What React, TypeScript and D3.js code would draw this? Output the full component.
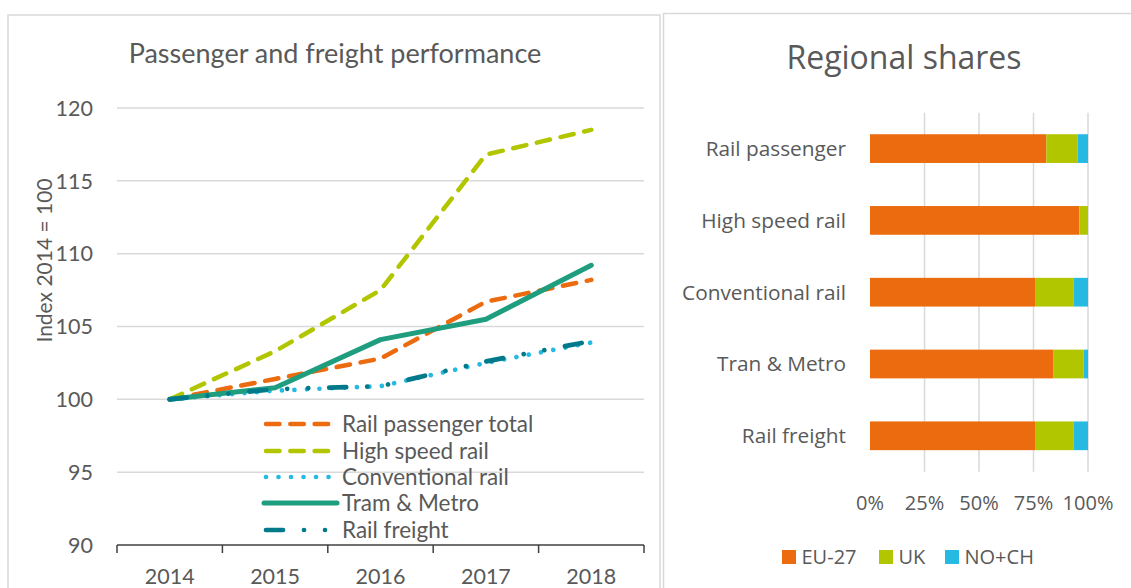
import React from "react";
import * as d3 from "d3";

const years = ["2014", "2015", "2016", "2017", "2018"];
const yTicks = [90, 95, 100, 105, 110, 115, 120];
const railPassengerTotal = [100, 101.4, 102.8, 106.7, 108.2];
const highSpeedRail = [100, 103.3, 107.5, 116.8, 118.5];
const conventionalRail = [100, 100.6, 100.9, 102.5, 103.9];
const tramMetro = [100, 100.8, 104.1, 105.5, 109.2];
const railFreight = [100, 100.7, 100.9, 102.6, 104.0];

const shareCategories = ["Rail passenger", "High speed rail", "Conventional rail", "Tran & Metro", "Rail freight"];
const eu27 = [80.9, 96.0, 75.7, 84.2, 75.7];
const uk = [14.4, 4.0, 17.8, 13.8, 17.8];
const noch = [4.7, 0.0, 6.5, 2.0, 6.5];
const shareTicks = [0, 25, 50, 75, 100];
const regionNames = ["EU-27", "UK", "NO+CH"];

const ORANGE = "#EB6B0E";
const LIME = "#B2C600";
const CYAN = "#26BAE2";
const TEAL = "#1E9E7E";
const DARKTEAL = "#00798A";
const TEXT = "#595959";
const GRID = "#D9D9D9";

const lineSeries = [
  { name: "Rail passenger total", values: railPassengerTotal, color: ORANGE, width: 4.5, dash: "13.5 10.8" },
  { name: "High speed rail", values: highSpeedRail, color: LIME, width: 4.5, dash: "13.5 10.8" },
  { name: "Conventional rail", values: conventionalRail, color: CYAN, width: 4.7, dash: "0.01 12.5" },
  { name: "Tram & Metro", values: tramMetro, color: TEAL, width: 5, dash: "" },
  { name: "Rail freight", values: railFreight, color: DARKTEAL, width: 4.7, dash: "17 21 0.01 21 0.01 21" },
];

export default function App() {
  const x = d3.scaleBand<string>().domain(years).range([117, 644]).padding(0);
  const y = d3.scaleLinear().domain([90, 120]).range([545, 108]);
  const line = d3
    .line<number>()
    .x((_, i) => (x(years[i]) as number) + x.bandwidth() / 2)
    .y((d) => y(d));

  const bx = d3.scaleLinear().domain([0, 100]).range([870, 1088]);
  const by = d3.scaleBand<string>().domain(shareCategories).range([112.7, 471.7]).paddingInner(0.6).paddingOuter(0.3);
  const stackData = shareCategories.map((c, i) => ({ cat: c, "EU-27": eu27[i], UK: uk[i], "NO+CH": noch[i] }));
  const stacked = d3.stack<any>().keys(regionNames)(stackData);
  const regionColors = [ORANGE, LIME, CYAN];

  const legendRows = [424, 451, 477, 503, 530];
  const legendX = [782, 879, 945];

  const leftFont = "Lato, 'Open Sans', sans-serif";
  const rightFont = "'Open Sans', sans-serif";

  return (
    <svg width={1131} height={588} style={{ position: "absolute", left: 0, top: 0, background: "#fff" }}>
      {/* panels */}
      <rect x={8} y={15} width={652} height={600} fill="#fff" stroke={GRID} strokeWidth={1.5} />
      <rect x={663.5} y={13.5} width={500} height={600} fill="#fff" stroke={GRID} strokeWidth={1.5} />

      {/* LEFT CHART */}
      <text x={335} y={63} textAnchor="middle" fontFamily={leftFont} fontSize={27} fill={TEXT}>
        Passenger and freight performance
      </text>
      {yTicks.slice(1).map((t) => (
        <line key={t} x1={117} x2={644} y1={y(t)} y2={y(t)} stroke={GRID} strokeWidth={1.5} />
      ))}
      {yTicks.map((t) => (
        <text key={t} x={93} y={y(t)} dy="0.36em" textAnchor="end" fontFamily={leftFont} fontSize={21.5} fill={TEXT}>
          {t}
        </text>
      ))}
      <text
        transform={`translate(44,260.5) rotate(-90)`}
        textAnchor="middle"
        dy="0.36em"
        fontFamily={leftFont}
        fontSize={21}
        fill={TEXT}
      >
        Index 2014 = 100
      </text>
      <line x1={117} x2={644} y1={y(90)} y2={y(90)} stroke="#404040" strokeWidth={1.5} />
      {[...years.map((yr) => x(yr) as number), 644].map((v, i) => (
        <line key={i} x1={v} x2={v} y1={y(90)} y2={y(90) + 8} stroke="#404040" strokeWidth={1.5} />
      ))}
      {years.map((yr) => (
        <text
          key={yr}
          x={(x(yr) as number) + x.bandwidth() / 2}
          y={583.5}
          textAnchor="middle"
          fontFamily={leftFont}
          fontSize={21.5}
          fill={TEXT}
        >
          {yr}
        </text>
      ))}
      {lineSeries.map((s) => (
        <path
          key={s.name}
          d={line(s.values) || ""}
          fill="none"
          stroke={s.color}
          strokeWidth={s.width}
          strokeDasharray={s.dash || undefined}
          strokeLinecap="round"
          strokeLinejoin="round"
        />
      ))}
      {lineSeries.map((s, i) => (
        <g key={s.name}>
          <line
            x1={s.dash ? 266 : 264}
            x2={s.dash ? 330 : 337}
            y1={legendRows[i]}
            y2={legendRows[i]}
            stroke={s.color}
            strokeWidth={s.width}
            strokeDasharray={s.dash || undefined}
            strokeLinecap="round"
          />
          <text x={342} y={legendRows[i]} dy="0.36em" fontFamily={leftFont} fontSize={22.5} fill={TEXT}>
            {s.name}
          </text>
        </g>
      ))}

      {/* RIGHT CHART */}
      <text x={904} y={69} textAnchor="middle" fontFamily={rightFont} fontSize={32} fill={TEXT}>
        Regional shares
      </text>
      {shareTicks.slice(1).map((t) => (
        <line key={t} x1={bx(t)} x2={bx(t)} y1={112.7} y2={471.7} stroke={GRID} strokeWidth={1.5} />
      ))}
      {stacked.map((layer, li) => (
        <g key={layer.key} fill={regionColors[li]}>
          {layer.map((d: any, i: number) => (
            <rect
              key={i}
              x={bx(d[0])}
              y={by(shareCategories[i]) as number}
              width={Math.max(0, bx(d[1]) - bx(d[0]))}
              height={by.bandwidth()}
            />
          ))}
        </g>
      ))}
      {shareCategories.map((c) => (
        <text
          key={c}
          x={846}
          y={(by(c) as number) + by.bandwidth() / 2}
          dy="0.36em"
          textAnchor="end"
          fontFamily={rightFont}
          fontSize={20.8}
          fill={TEXT}
        >
          {c}
        </text>
      ))}
      {shareTicks.map((t) => (
        <text key={t} x={bx(t)} y={510} textAnchor="middle" fontFamily={rightFont} fontSize={20} fill={TEXT}>
          {t}%
        </text>
      ))}
      {regionNames.map((r, i) => (
        <g key={r}>
          <rect x={legendX[i]} y={550} width={14} height={14} fill={regionColors[i]} />
          <text x={legendX[i] + 19.5} y={564} fontFamily={rightFont} fontSize={20} fill={TEXT}>
            {r}
          </text>
        </g>
      ))}
    </svg>
  );
}
